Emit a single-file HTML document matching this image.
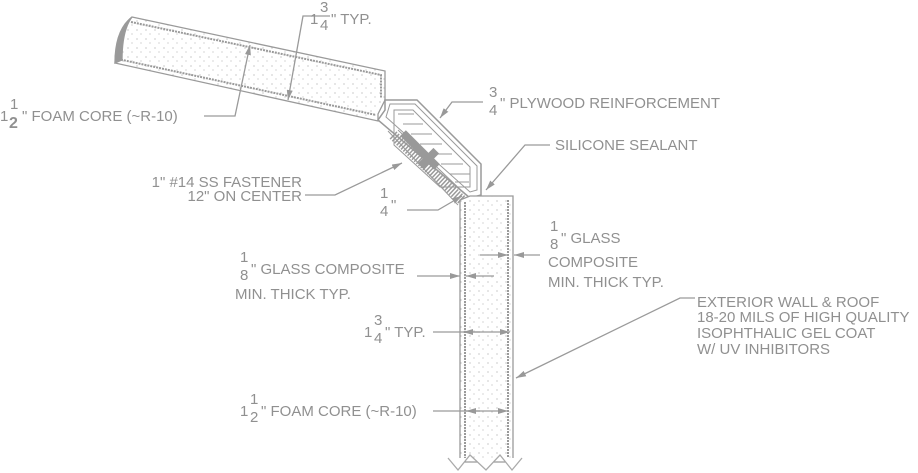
<!DOCTYPE html>
<html><head><meta charset="utf-8"><style>
html,body{margin:0;padding:0;background:#fff;}
svg{display:block;}
text{font-family:"Liberation Sans",sans-serif;fill:#909090;font-size:15px;}
.f{font-size:15px;}
</style></head><body>
<svg width="918" height="473" viewBox="0 0 918 473" xmlns="http://www.w3.org/2000/svg">
<defs>
<pattern id="dots" width="9" height="9" patternUnits="userSpaceOnUse">
<rect width="9" height="9" fill="#fff"/><circle cx="2" cy="3" r="0.6" fill="#aaa"/><circle cx="6" cy="7" r="0.6" fill="#bbb"/>
</pattern>
<marker id="ar" markerWidth="10" markerHeight="6" refX="10" refY="3" orient="auto" markerUnits="userSpaceOnUse"><path d="M0,0L10,3L0,6z" fill="#999"/></marker>
</defs>
<g stroke="#9a9a9a" fill="none" stroke-width="1.3">
<path d="M132,17 L385,71 L385,100 L378,114 L378,121 L115,63 Q115,30 132,17Z" fill="url(#dots)"/>
<path d="M131,22 L381,75 L381,98 M118,59 L376,115" stroke-dasharray="2 1" stroke-width="2"/>
<path d="M132,17 Q116,32 115,63 L122,60 Q122,30 132,17Z" fill="#999"/>
<path d="M385,100 L417,100 L481,164 L481,195 L470,198 L378,120 L385,110Z" fill="#fff" stroke-width="1.5"/>
<path d="M390,104 L415,104 L477,166 L477,190 L470,192 L386,117Z" stroke-width="1"/>
<path d="M394,110 L413,110 L470,167 L470,187 L440,187 L394,145Z" stroke-width="1"/>
<g stroke-width="1"><path d="M398,114h16M403,124h20M411,134h21M420,144h22M430,154h22M441,164h22M450,174h20M455,182h14"/></g>
<path d="M393,135 L462,200" stroke-width="10" stroke-dasharray="1.5 1.5"/>
<path d="M388,131 L458,205 M398,130 L466,195" stroke-width="1"/>
<g transform="translate(420,150) rotate(-45)" fill="#999" stroke="none"><rect x="-4" y="-24" width="8" height="48"/><rect x="-11" y="8" width="22" height="8"/></g>
<path d="M460,200 L470,196 L513,196 L513,462 L460,462Z" fill="url(#dots)"/>
<path d="M465,202 L465,462 M508,200 L508,462" stroke-dasharray="2 1" stroke-width="2"/>
<path d="M448,458 L458,470 L470,455 L486,470 L500,455 L512,470 L522,458" stroke="#aaa" fill="#fff"/>
<path d="M330,16 L303,16 L288,100" marker-end="url(#ar)"/>
<path d="M204,116 L235,116 L250,45" marker-end="url(#ar)"/>
<path d="M483,102 L452,102 L440,118" marker-end="url(#ar)"/>
<path d="M550,145 L525,145 L486,190" marker-end="url(#ar)"/>
<path d="M305,195 L335,195 L402,163" marker-end="url(#ar)"/>
<path d="M407,210 L438,210 L462,196" marker-end="url(#ar)"/>
<path d="M417,276 L460,276" marker-end="url(#ar)"/>
<path d="M494,276 L466,276" marker-end="url(#ar)"/>
<path d="M480,255 L508,255" marker-end="url(#ar)"/>
<path d="M540,255 L514,255" marker-end="url(#ar)"/>
<path d="M433,332 L510,332" marker-end="url(#ar)"/>
<path d="M480,332 L463,332" marker-end="url(#ar)"/>
<path d="M433,411 L508,411" marker-end="url(#ar)"/>
<path d="M480,411 L466,411" marker-end="url(#ar)"/>
<path d="M695,298 L680,298 L516,378" marker-end="url(#ar)"/>
</g>
<text x="310" y="24">1</text><text class="f" x="320" y="12">3</text><text class="f" x="320" y="30">4</text><text x="331" y="24">" TYP.</text>
<text x="0" y="121">1</text><text class="f" x="10" y="109">1</text><text x="9" y="128" style="font-weight:bold;font-size:16px">2</text><text x="22" y="121">" FOAM CORE  (~R-10)</text>
<text class="f" x="489" y="97">3</text><text class="f" x="489" y="115">4</text><text x="500" y="108">" PLYWOOD REINFORCEMENT</text>
<text x="555" y="150">SILICONE SEALANT</text>
<text x="302" y="187" text-anchor="end">1" #14 SS FASTENER</text>
<text x="302" y="201" text-anchor="end">12" ON CENTER</text>
<text class="f" x="380" y="198">1</text><text class="f" x="380" y="216">4</text><text x="391" y="210">"</text>
<text class="f" x="240" y="262">1</text><text class="f" x="240" y="280">8</text><text x="251" y="274">" GLASS COMPOSITE</text>
<text x="235" y="299">MIN. THICK TYP.</text>
<text class="f" x="550" y="231">1</text><text class="f" x="550" y="249">8</text><text x="561" y="243">" GLASS</text>
<text x="548" y="267">COMPOSITE</text>
<text x="548" y="287">MIN. THICK TYP.</text>
<text x="364" y="337">1</text><text class="f" x="374" y="325">3</text><text class="f" x="374" y="343">4</text><text x="385" y="337">" TYP.</text>
<text x="697" y="307">EXTERIOR WALL &amp; ROOF</text>
<text x="697" y="322">18-20 MILS OF HIGH QUALITY</text>
<text x="697" y="338">ISOPHTHALIC GEL COAT</text>
<text x="697" y="354">W/ UV INHIBITORS</text>
<text x="240" y="416">1</text><text class="f" x="250" y="404">1</text><text class="f" x="250" y="422">2</text><text x="261" y="416">" FOAM CORE (~R-10)</text>
</svg>
</body></html>
